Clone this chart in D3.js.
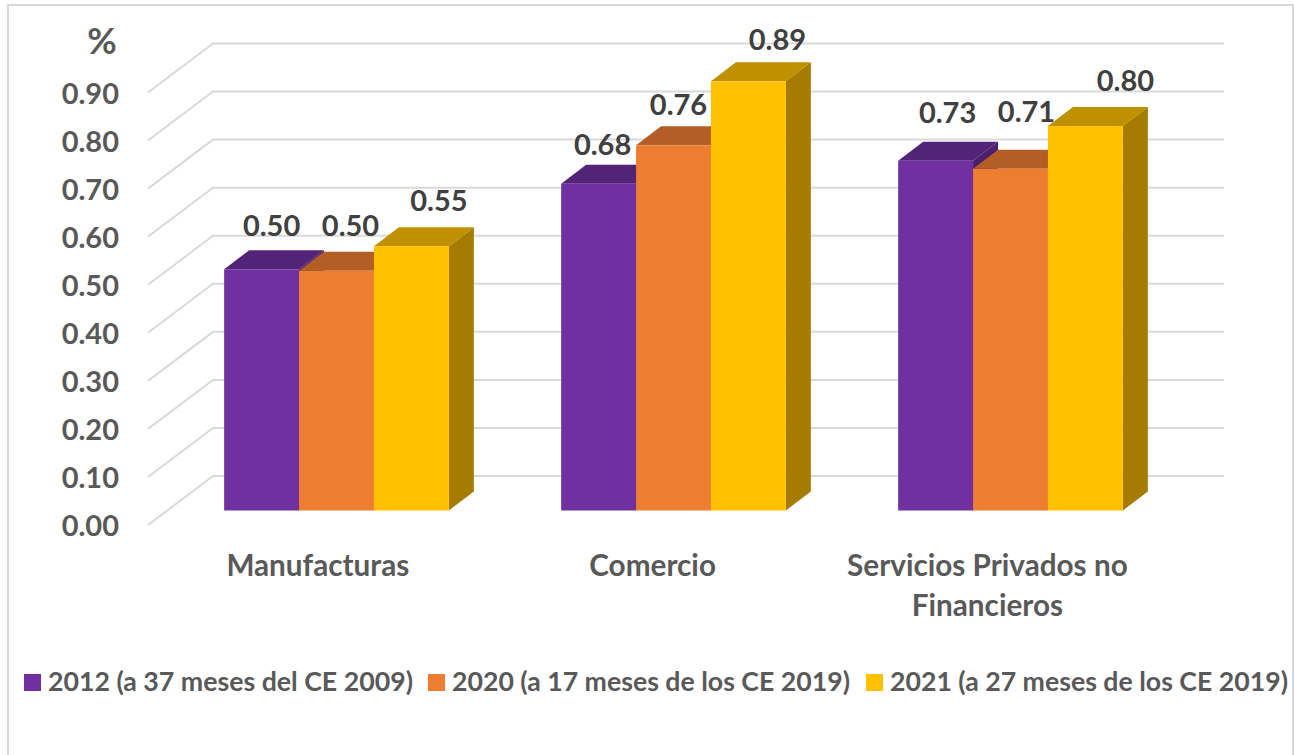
<!DOCTYPE html>
<html>
<head>
<meta charset="utf-8">
<script src="https://cdn.jsdelivr.net/npm/d3@7/dist/d3.min.js"></script>
<style>
html, body { margin: 0; padding: 0; background: #fff; }
svg { display: block; font-family: Lato, "Open Sans", sans-serif; font-weight: 700; }
</style>
</head>
<body>
<svg id="chart" width="1295" height="755"></svg>
<script>
var categories = ["Manufacturas", "Comercio", "Servicios Privados no Financieros"];
var seriesNames = ["2012 (a 37 meses del CE 2009)", "2020 (a 17 meses de los CE 2019)", "2021 (a 27 meses de los CE 2019)"];
var values2012 = [0.502, 0.68, 0.728];
var values2020 = [0.499, 0.76, 0.711];
var values2021 = [0.55, 0.893, 0.80];
var yTicks = [0, 0.1, 0.2, 0.3, 0.4, 0.5, 0.6, 0.7, 0.8, 0.9];

var frontColors = ["#7030a0", "#ed7d31", "#ffc000"];
var topColors = ["#532378", "#b25e25", "#bf9000"];
var sideColors = ["#4a1f6b", "#9e5320", "#a67c00"];

var svg = d3.select("#chart");
var series = [values2012, values2020, values2021];

// chart frame, open at the bottom
svg.append("path")
    .attr("d", d3.line()([[8, 755], [8, 5], [1293, 5], [1293, 755]]))
    .attr("fill", "none")
    .attr("stroke", "#d9d9d9")
    .attr("stroke-width", 2);

// y on the back wall, the other planes are shifted copies of it
var y = d3.scaleLinear().domain([0, 0.9]).range([476, 43.5]);
var yFront = y.copy().range([525, 92.5]);
var yBar = y.copy().range([510.5, 78]);

var wallLeft = 213, wallRight = 1224, floorLeft = 148;
var depthX = 25, depthY = -19;

var grid = svg.append("g");
yTicks.forEach(function(t) {
    grid.append("path")
        .attr("d", d3.line()([[floorLeft, yFront(t)], [wallLeft, y(t)], [wallRight, y(t)]]))
        .attr("fill", "none")
        .attr("stroke", "#d9d9d9")
        .attr("stroke-width", 2);
});

var yAxis = svg.append("g")
    .attr("transform", "translate(125,1.5)")
    .call(d3.axisLeft(yFront).tickValues(yTicks).tickSize(0).tickPadding(6).tickFormat(d3.format(".2f")));
yAxis.select(".domain").remove();
yAxis.selectAll("text")
    .attr("font-size", 29)
    .attr("font-family", "Lato")
    .attr("font-weight", 700)
    .attr("fill", "#595959");

svg.append("text")
    .attr("x", 102)
    .attr("y", 54)
    .attr("text-anchor", "middle")
    .attr("font-size", 36)
    .attr("fill", "#595959")
    .text("%");

var x0 = d3.scaleBand().domain(categories).range([168, 1179]).paddingInner(0).paddingOuter(0);
var barW = 74.9;
var groupW = barW * 3;

function poly(pts) { return d3.line()(pts) + "Z"; }

var bars = svg.append("g");
categories.forEach(function(c, ci) {
    var gx = x0(c) + (x0.bandwidth() - groupW) / 2;
    series.forEach(function(vals, si) {
        var l = gx + si * barW, r = l + barW;
        var t = yBar(vals[ci]), b = yBar(0);
        bars.append("path").attr("fill", sideColors[si])
            .attr("d", poly([[r, t], [r + depthX, t + depthY], [r + depthX, b + depthY], [r, b]]));
        bars.append("path").attr("fill", topColors[si])
            .attr("d", poly([[l, t], [l + depthX, t + depthY], [r + depthX, t + depthY], [r, t]]));
        bars.append("rect").attr("fill", frontColors[si])
            .attr("x", l).attr("y", t).attr("width", barW).attr("height", b - t);
    });
});

// hand placed data labels, same as the moved labels in the original
var labelDx = [[10, 14, 27.5], [4, 5, 29], [12, 16, 40]];
var labelDy = [[-44, -45, -46], [-39, -41, -42], [-48, -57, -45.5]];
var labels = svg.append("g");
categories.forEach(function(c, ci) {
    var gx = x0(c) + (x0.bandwidth() - groupW) / 2;
    series.forEach(function(vals, si) {
        labels.append("text")
            .attr("x", gx + (si + 0.5) * barW + labelDx[ci][si])
            .attr("y", yBar(vals[ci]) + labelDy[ci][si])
            .attr("dy", "0.36em")
            .attr("text-anchor", "middle")
            .attr("font-size", 29)
            .attr("fill", "#404040")
            .text(vals[ci].toFixed(2));
    });
});

// category labels sit left of the bars and wrap onto two lines
var xLabel = d3.scaleBand().domain(categories).range([150.5, 1154.75]);
var catLines = [["Manufacturas"], ["Comercio"], ["Servicios Privados no", "Financieros"]];
categories.forEach(function(c, ci) {
    catLines[ci].forEach(function(line, li) {
        svg.append("text")
            .attr("x", xLabel(c) + xLabel.bandwidth() / 2)
            .attr("y", 576 + li * 40)
            .attr("text-anchor", "middle")
            .attr("font-size", 29.7)
            .attr("fill", "#595959")
            .text(line);
    });
});

var legendSwatchX = [24, 428, 866];
var legendTextW = [365, 398, 398];
var legend = svg.append("g");
seriesNames.forEach(function(name, i) {
    legend.append("rect")
        .attr("x", legendSwatchX[i]).attr("y", 674)
        .attr("width", 17).attr("height", 17)
        .attr("fill", frontColors[i]);
    legend.append("text")
        .attr("x", legendSwatchX[i] + 24)
        .attr("y", 691)
        .attr("font-size", 26)
        .attr("fill", "#595959")
        .attr("textLength", legendTextW[i])
        .attr("lengthAdjust", "spacingAndGlyphs")
        .text(name);
});
</script>
</body>
</html>
